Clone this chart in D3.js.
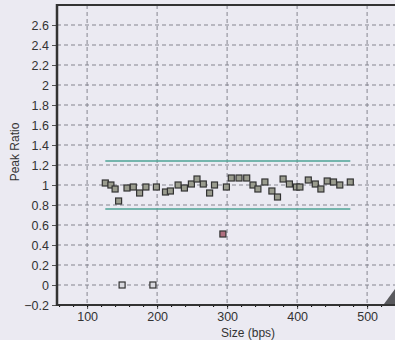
<!DOCTYPE html>
<html>
<head>
<meta charset="utf-8">
<script src="https://cdn.jsdelivr.net/npm/d3@7"></script>
<style>
  body { margin: 0; background: #ebeaf2; }
  svg { display: block; font-family: "Liberation Sans", Arial, sans-serif; }
</style>
</head>
<body>
<div id="chart"></div>
<script>
// peak sizes (bps) and their peak ratios
const sizes = [126, 134, 140, 145, 150, 157, 166, 175, 184, 194, 199, 212, 219, 230, 239, 249, 257,
    266, 275, 282, 294, 299, 306, 317, 328, 337, 344, 354, 364, 372, 380, 389, 399, 404,
    416, 426, 434, 443, 452, 461, 476];
const ratios = [1.02, 1.00, 0.96, 0.84, 0.00, 0.97, 0.98, 0.92, 0.98, 0.00, 0.98, 0.93, 0.94, 1.00, 0.97, 1.01, 1.06,
    1.01, 0.92, 1.00, 0.51, 0.98, 1.07, 1.07, 1.07, 1.00, 0.96, 1.03, 0.94, 0.88, 1.06, 1.01, 0.98, 0.98,
    1.05, 1.01, 0.96, 1.04, 1.03, 1.00, 1.03];

// threshold band
const upperLimit = 1.24;
const lowerLimit = 0.76;
const limitRange = [126, 476];

const yTicks = [-0.2, 0, 0.2, 0.4, 0.6, 0.8, 1, 1.2, 1.4, 1.6, 1.8, 2, 2.2, 2.4, 2.6];
const xTicks = [100, 200, 300, 400, 500];

const width = 395, height = 340;
const plotLeft = 57, plotTop = 5, plotBottom = 305;

const svg = d3.select("#chart").append("svg")
    .attr("width", width)
    .attr("height", height);

const xScale = d3.scaleLinear()
    .domain([57, 547])
    .range([plotLeft, plotLeft + 490 * 0.7]);

const yScale = d3.scaleLinear()
    .domain([-0.2, 2.8])
    .range([plotBottom, plotTop]);

// dashed grid
svg.append("g")
    .selectAll("line")
    .data(yTicks.filter(t => t > -0.2))
    .join("line")
    .attr("x1", plotLeft)
    .attr("x2", width)
    .attr("y1", d => yScale(d))
    .attr("y2", d => yScale(d))
    .attr("stroke", "#85858f")
    .attr("stroke-dasharray", "4,3");

svg.append("g")
    .selectAll("line")
    .data(xTicks)
    .join("line")
    .attr("x1", d => xScale(d))
    .attr("x2", d => xScale(d))
    .attr("y1", plotTop)
    .attr("y2", plotBottom)
    .attr("stroke", "#85858f")
    .attr("stroke-dasharray", "4,3");

// limit lines
[upperLimit, lowerLimit].forEach(v => {
    svg.append("line")
        .attr("x1", xScale(limitRange[0]))
        .attr("x2", xScale(limitRange[1]))
        .attr("y1", yScale(v))
        .attr("y2", yScale(v))
        .attr("stroke", "#4ea396")
        .attr("stroke-width", 1.5);
});

// axes
const yAxis = svg.append("g")
    .attr("transform", `translate(${plotLeft},0)`)
    .call(d3.axisLeft(yScale).tickValues(yTicks).tickSize(5).tickPadding(3).tickFormat(d3.format("")));

const xAxis = svg.append("g")
    .attr("transform", `translate(0,${plotBottom})`)
    .call(d3.axisBottom(xScale).tickValues(xTicks).tickSize(4).tickPadding(3));

// minor ticks on x
svg.append("g")
    .attr("transform", `translate(0,${plotBottom})`)
    .call(d3.axisBottom(xScale).tickValues(d3.range(60, 560, 20)).tickSize(2).tickFormat(""))
    .call(g => g.select(".domain").remove());

[yAxis, xAxis].forEach(g => {
    g.selectAll("text").attr("fill", "#333").style("font-size", "12.5px");
    g.selectAll(".tick line").attr("stroke", "#555");
});
svg.selectAll(".domain").remove();

// frame
svg.append("line").attr("x1", plotLeft).attr("x2", width).attr("y1", plotTop).attr("y2", plotTop)
    .attr("stroke", "#333").attr("stroke-width", 2);
svg.append("line").attr("x1", plotLeft).attr("x2", width).attr("y1", plotBottom).attr("y2", plotBottom)
    .attr("stroke", "#333").attr("stroke-width", 2);
svg.append("line").attr("x1", plotLeft).attr("x2", plotLeft).attr("y1", plotTop - 1).attr("y2", plotBottom + 1)
    .attr("stroke", "#333").attr("stroke-width", 2.5);

// points
svg.append("g")
    .selectAll("rect")
    .data(sizes)
    .join("rect")
    .attr("x", d => xScale(d) - 3)
    .attr("y", (d, i) => yScale(ratios[i]) - 3)
    .attr("width", 6)
    .attr("height", 6)
    .attr("fill", (d, i) => ratios[i] < 0.6 && ratios[i] > 0 ? "#b07080" : (ratios[i] === 0 ? "#d8d8de" : "#9a9c8e"))
    .attr("stroke", "#333")
    .attr("stroke-width", 1.2);

// corner grip
svg.append("path")
    .attr("d", `M384,${plotBottom - 1} L${width},${plotBottom - 16} L${width},${plotBottom - 1} Z`)
    .attr("fill", "#5a5a5e");

// labels
svg.append("text")
    .attr("x", xScale(330))
    .attr("y", 337)
    .attr("text-anchor", "middle")
    .attr("fill", "#333")
    .style("font-size", "12px")
    .text("Size (bps)");

svg.append("text")
    .attr("transform", `translate(19, 152) rotate(-90)`)
    .attr("text-anchor", "middle")
    .attr("fill", "#333")
    .style("font-size", "12px")
    .text("Peak Ratio");
</script>
</body>
</html>
